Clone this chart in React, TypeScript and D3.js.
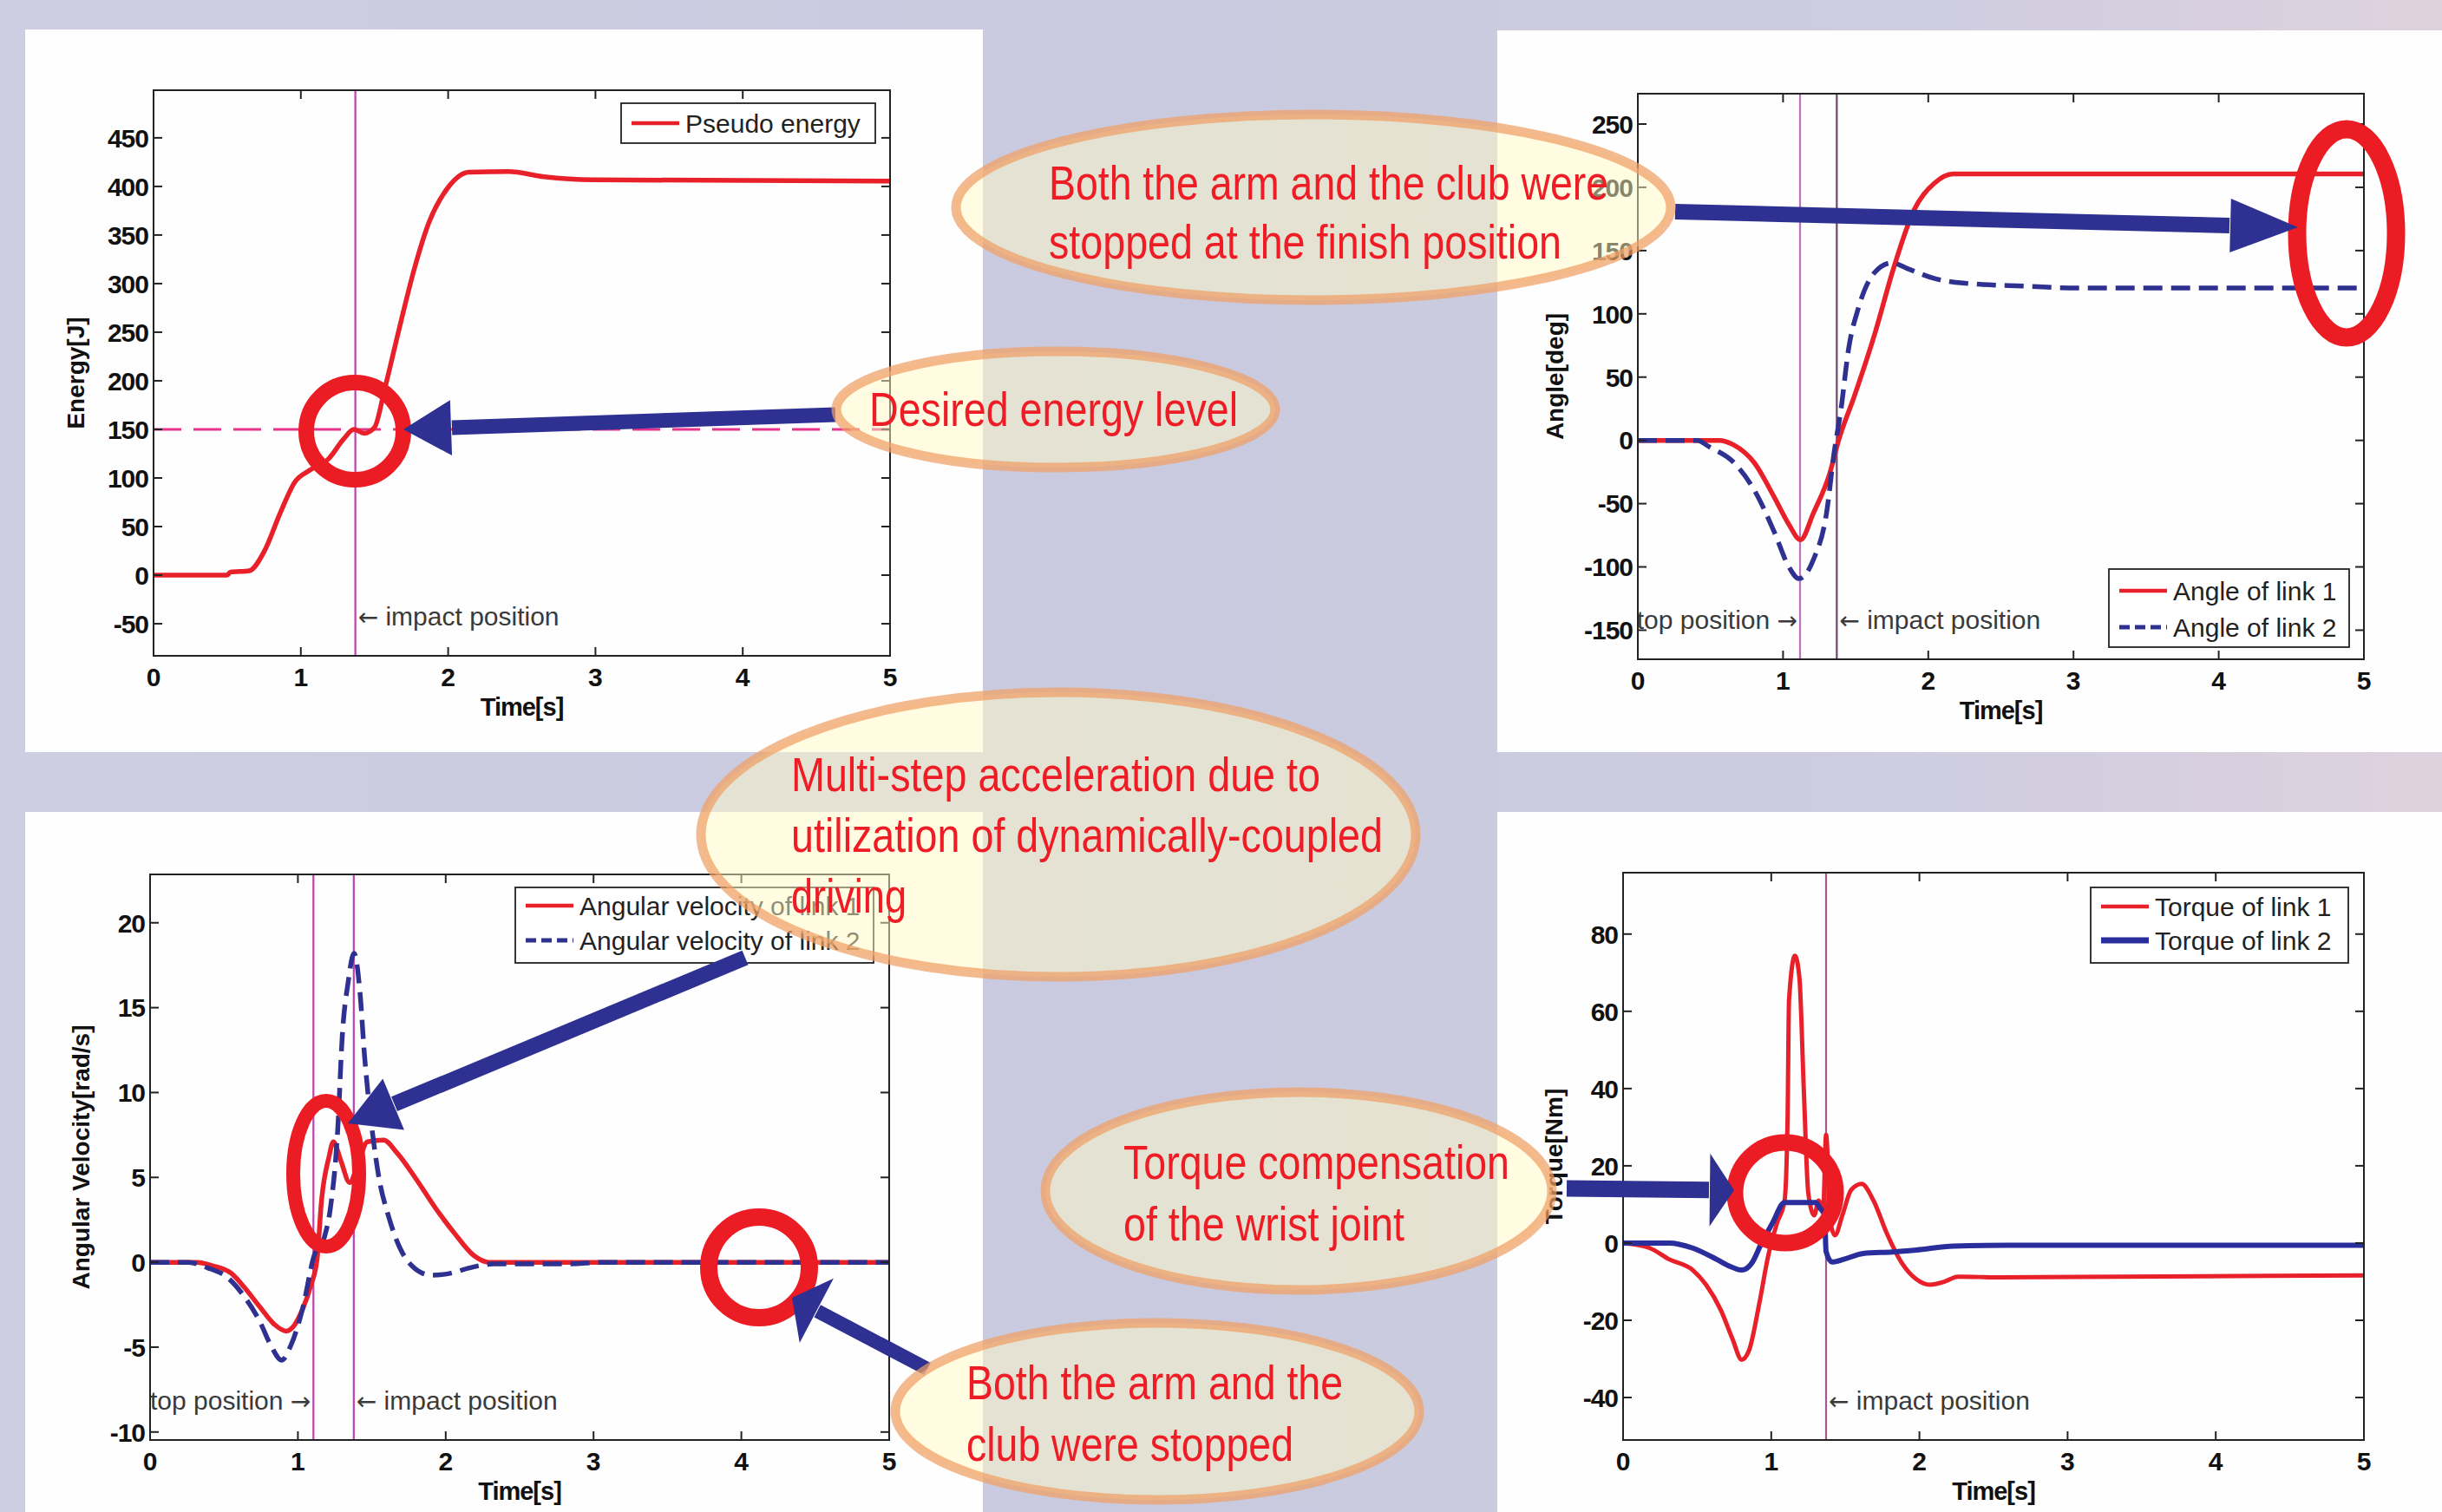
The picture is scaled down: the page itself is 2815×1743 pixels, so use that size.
import React from "react";
import * as d3 from "d3";

const W = 2815;
const H = 1743;

// ---- data (time in s) ----
const energyT = [0, 0.5, 0.52, 0.65, 0.75, 0.86, 0.96, 1.06, 1.19, 1.29, 1.36, 1.43, 1.5, 1.57, 1.67, 1.77, 1.87, 2.0, 2.14, 2.41, 2.65, 2.98, 5];
const energyV = [0, 0, 3, 4.5, 24, 64, 96, 108, 120, 140, 150, 146, 152, 192, 255, 315, 363, 399, 414.6, 415.4, 410, 406.8, 405.5];
const desiredEnergy = 150;

const angle1T = [0, 0.56, 0.66, 0.8, 0.94, 1.04, 1.12, 1.21, 1.32, 1.385, 1.49, 1.63, 1.76, 1.9, 2.04, 2.17, 5];
const angle1V = [0, 0, -3.6, -17.4, -45, -66.4, -78.6, -57.2, -26.6, 1, 34.7, 83.6, 135.6, 181.6, 203, 210.6, 210.6];
const angle2T = [0, 0.41, 0.49, 0.66, 0.8, 0.94, 1.04, 1.11, 1.21, 1.3, 1.35, 1.4, 1.45, 1.52, 1.63, 1.75, 1.86, 2.04, 2.24, 2.69, 3.03, 5];
const angle2V = [0, 0, -5, -17.4, -38.9, -72.5, -100, -109.3, -94, -57, -11, 25.4, 71.4, 105, 132.6, 140.3, 135.6, 128, 124.3, 121.8, 120.4, 120.4];

const vel1T = [0, 0.32, 0.42, 0.55, 0.64, 0.74, 0.84, 0.92, 0.97, 1.03, 1.09, 1.13, 1.16, 1.21, 1.24, 1.29, 1.35, 1.4, 1.47, 1.58, 1.67, 1.8, 1.93, 2.06, 2.19, 2.29, 5];
const vel1V = [0, 0, -0.2, -0.65, -1.5, -2.6, -3.65, -4.05, -3.77, -2.8, -1.3, 0.2, 3.65, 6.2, 7.1, 6.0, 4.7, 5.6, 7.1, 7.2, 6.45, 4.9, 3.2, 1.7, 0.4, 0, 0];
const vel2T = [0, 0.26, 0.39, 0.52, 0.64, 0.74, 0.82, 0.89, 0.95, 1.03, 1.11, 1.18, 1.22, 1.27, 1.3, 1.34, 1.38, 1.42, 1.45, 1.5, 1.55, 1.61, 1.69, 1.77, 1.9, 2.03, 2.16, 2.32, 2.83, 3.06, 5];
const vel2V = [0, 0, -0.33, -0.87, -2.05, -3.45, -4.95, -5.77, -4.95, -2.8, 0.4, 1.5, 3.2, 7.9, 13.3, 16.5, 18.2, 15.9, 12.25, 7.95, 4.9, 2.8, 0.85, -0.2, -0.76, -0.65, -0.33, -0.1, -0.1, 0, 0];

const torque1T = [0, 0.18, 0.31, 0.47, 0.56, 0.66, 0.74, 0.8, 0.85, 0.92, 0.98, 1.04, 1.09, 1.11, 1.12, 1.16, 1.19, 1.22, 1.25, 1.29, 1.32, 1.35, 1.37, 1.4, 1.43, 1.48, 1.54, 1.61, 1.69, 1.78, 1.88, 1.98, 2.07, 2.17, 2.26, 2.55, 3.36, 5];
const torque1V = [0, -1.3, -4.2, -7, -10.8, -17.4, -25, -30.2, -27.8, -15.5, -3.2, 5.3, 11, 31.8, 63, 74.4, 68.7, 39.4, 12.9, 7.2, 11, 8.2, 28, 5.3, 2, 7.2, 13.8, 15.3, 11, 2.5, -5.1, -9.4, -10.8, -10, -8.7, -8.9, -8.7, -8.4];
const torque2T = [0, 0.31, 0.47, 0.63, 0.72, 0.8, 0.87, 0.93, 1.01, 1.09, 1.14, 1.3, 1.33, 1.36, 1.37, 1.41, 1.49, 1.62, 1.82, 1.98, 2.23, 2.6, 5];
const torque2V = [0, 0, -1.3, -4.2, -6, -7, -5.1, -0.4, 5.3, 10.5, 10.5, 10.5, 9, 7.2, -2.2, -4.9, -4.2, -2.7, -2.3, -1.8, -0.8, -0.6, -0.6];

const xTicks = [0, 1, 2, 3, 4, 5];
const energyTicks = [-50, 0, 50, 100, 150, 200, 250, 300, 350, 400, 450];
const angleTicks = [-150, -100, -50, 0, 50, 100, 150, 200, 250];
const velTicks = [-10, -5, 0, 5, 10, 15, 20];
const torqueTicks = [-40, -20, 0, 20, 40, 60, 80];

const topPos = 1.11;
const impactPos = 1.37;

const RED = "#e8202a";
const NAVY = "#2f3190";
const BLUE = "#2a2d9c";
const ARROW = "#2e3192";
const CIRCLE = "#ec1c24";
const FONT = "'Liberation Sans', Arial, sans-serif";
const ARROWFONT = "'DejaVu Sans', sans-serif";
const NARROW = "'Liberation Sans Narrow', 'Arial Narrow', 'Liberation Sans', Arial, sans-serif";

type Series = { t: number[]; v: number[]; color: string; width: number; dash?: string };
type Rect = { x: number; y: number; w: number; h: number };

function Panel(props: {
  id: string;
  plot: Rect;
  yDomain: [number, number];
  yTicks: number[];
  yLabel: string;
  yLabelDx: number;
  series: Series[];
  hline?: { v: number; color: string };
  vlines: { t: number; color: string }[];
  notes: { t: number; text: string; anchor: "start" | "end" }[];
  legend: Rect & { rows: number[]; items: { label: string; color: string; width: number; dash?: string }[] };
}) {
  const { id, plot, yDomain, yTicks, yLabel, yLabelDx, series, hline, vlines, notes, legend } = props;
  const x = d3.scaleLinear().domain([0, 5]).range([plot.x, plot.x + plot.w]);
  const y = d3.scaleLinear().domain(yDomain).range([plot.y + plot.h, plot.y]);
  const bottom = plot.y + plot.h;
  const right = plot.x + plot.w;
  const tl = 10;

  return (
    <g>
      <defs>
        <clipPath id={id}>
          <rect x={plot.x} y={plot.y} width={plot.w} height={plot.h} />
        </clipPath>
      </defs>
      <g clipPath={`url(#${id})`}>
        {hline && (
          <line x1={plot.x} x2={right} y1={y(hline.v)} y2={y(hline.v)} stroke={hline.color} strokeWidth={3.2} strokeDasharray="32,14" />
        )}
        {vlines.map((vl, i) => (
          <line key={i} x1={x(vl.t)} x2={x(vl.t)} y1={plot.y} y2={bottom} stroke={vl.color} strokeWidth={2.2} />
        ))}
        {series.map((s, i) => {
          const path = d3
            .line<number>()
            .x((_, j) => x(s.t[j]))
            .y((d) => y(d))
            .curve(d3.curveMonotoneX)(s.v);
          return (
            <path key={i} d={path ?? ""} fill="none" stroke={s.color} strokeWidth={s.width} strokeDasharray={s.dash} strokeLinejoin="round" />
          );
        })}
      </g>
      {notes.map((n, i) => {
        const arrowFirst = n.text.startsWith("←");
        const body = n.text.replace("←", "").replace("→", "").trim();
        return (
          <text
            key={i}
            x={x(n.t) + (n.anchor === "start" ? 3 : -3)}
            y={bottom - 35}
            textAnchor={n.anchor}
            fontFamily={FONT}
            fontSize={30}
            fill="#3a3a3a"
          >
            {arrowFirst ? (
              <>
                <tspan fontFamily={ARROWFONT} fontSize={28}>←</tspan>
                <tspan> {body}</tspan>
              </>
            ) : (
              <>
                <tspan>{body} </tspan>
                <tspan fontFamily={ARROWFONT} fontSize={28}>→</tspan>
              </>
            )}
          </text>
        );
      })}
      {/* box + ticks */}
      <rect x={plot.x} y={plot.y} width={plot.w} height={plot.h} fill="none" stroke="#222" strokeWidth={2} />
      {xTicks.map((t) => (
        <g key={t}>
          <line x1={x(t)} x2={x(t)} y1={bottom} y2={bottom - tl} stroke="#222" strokeWidth={2} />
          <line x1={x(t)} x2={x(t)} y1={plot.y} y2={plot.y + tl} stroke="#222" strokeWidth={2} />
          <text x={x(t)} y={bottom + 35} textAnchor="middle" fontFamily={FONT} fontWeight="bold" fontSize={30} fill="#111">
            {t}
          </text>
        </g>
      ))}
      {yTicks.map((v) => (
        <g key={v}>
          <line x1={plot.x} x2={plot.x + tl} y1={y(v)} y2={y(v)} stroke="#222" strokeWidth={2} />
          <line x1={right} x2={right - tl} y1={y(v)} y2={y(v)} stroke="#222" strokeWidth={2} />
          <text x={plot.x - 6} y={y(v)} dy="0.36em" textAnchor="end" fontFamily={FONT} fontWeight="bold" fontSize={30} fill="#111" letterSpacing={-1}>
            {v}
          </text>
        </g>
      ))}
      <text x={plot.x + plot.w / 2} y={bottom + 69} textAnchor="middle" fontFamily={FONT} fontWeight="bold" fontSize={29} fill="#111" letterSpacing={-1}>
        Time[s]
      </text>
      <text
        transform={`translate(${plot.x + yLabelDx}, ${plot.y + plot.h / 2}) rotate(-90)`}
        textAnchor="middle"
        dy="0.36em"
        fontFamily={FONT}
        fontWeight="bold"
        fontSize={28}
        fill="#111"
      >
        {yLabel}
      </text>
      {/* legend */}
      <rect x={legend.x} y={legend.y} width={legend.w} height={legend.h} fill="#fff" stroke="#222" strokeWidth={1.8} />
      {legend.items.map((it, i) => (
        <g key={i}>
          <line x1={legend.x + 12} x2={legend.x + 67} y1={legend.rows[i]} y2={legend.rows[i]} stroke={it.color} strokeWidth={it.width} strokeDasharray={it.dash} />
          <text x={legend.x + 74} y={legend.rows[i]} dy="0.36em" fontFamily={FONT} fontSize={30} fill="#222">
            {it.label}
          </text>
        </g>
      ))}
    </g>
  );
}

function Arrow({ from, tip, head, half, width }: { from: [number, number]; tip: [number, number]; head: number; half: number; width: number }) {
  const dx = from[0] - tip[0];
  const dy = from[1] - tip[1];
  const len = Math.hypot(dx, dy);
  const ux = dx / len;
  const uy = dy / len;
  const bx = tip[0] + ux * head;
  const by = tip[1] + uy * head;
  const c1 = [bx - uy * half, by + ux * half];
  const c2 = [bx + uy * half, by - ux * half];
  return (
    <g>
      <line x1={from[0]} y1={from[1]} x2={bx + ux} y2={by + uy} stroke={ARROW} strokeWidth={width} />
      <polygon points={`${tip[0]},${tip[1]} ${c1[0]},${c1[1]} ${c2[0]},${c2[1]}`} fill={ARROW} />
    </g>
  );
}

function Bubble({ cx, cy, rx, ry, x, lines }: { cx: number; cy: number; rx: number; ry: number; x: number; lines: { text: string; y: number; w: number }[] }) {
  return (
    <g>
      <ellipse cx={cx} cy={cy} rx={rx} ry={ry} fill="rgba(255,249,198,0.5)" stroke="rgba(240,160,100,0.72)" strokeWidth={11} />
      {lines.map((l, i) => (
        <text key={i} x={x} y={l.y} fontFamily={NARROW} fontSize={56} fill="#ee1c25" textLength={l.w} lengthAdjust="spacingAndGlyphs">
          {l.text}
        </text>
      ))}
    </g>
  );
}

export default function App() {
  return (
    <svg width={W} height={H} style={{ position: "absolute", left: 0, top: 0, display: "block" }}>
      <defs>
        <linearGradient id="bg" x1="0" x2="1" y1="0" y2="0">
          <stop offset="0" stopColor="#cdcee2" />
          <stop offset="0.5" stopColor="#c9cadf" />
          <stop offset="0.8" stopColor="#cfcde0" />
          <stop offset="1" stopColor="#dfd2de" />
        </linearGradient>
      </defs>
      <rect width={W} height={H} fill="url(#bg)" />
      <rect x={29} y={34} width={1104} height={833} fill="#fefefe" />
      <rect x={1726} y={35} width={1089} height={832} fill="#fefefe" />
      <rect x={29} y={936} width={1104} height={807} fill="#fefefe" />
      <rect x={1726} y={936} width={1089} height={807} fill="#fefefe" />

      <Panel
        id="cEnergy"
        plot={{ x: 177, y: 104, w: 849, h: 652 }}
        yDomain={[-83, 499]}
        yTicks={energyTicks}
        yLabel="Energy[J]"
        yLabelDx={-90}
        series={[{ t: energyT, v: energyV, color: RED, width: 5.5 }]}
        hline={{ v: desiredEnergy, color: "#e6348c" }}
        vlines={[{ t: impactPos, color: "#c040b0" }]}
        notes={[{ t: impactPos, text: "← impact position", anchor: "start" }]}
        legend={{ x: 716, y: 119, w: 293, h: 46, rows: [142], items: [{ label: "Pseudo energy", color: RED, width: 4.5 }] }}
      />
      <Panel
        id="cAngle"
        plot={{ x: 1888, y: 108, w: 837, h: 652 }}
        yDomain={[-173, 274]}
        yTicks={angleTicks}
        yLabel="Angle[deg]"
        yLabelDx={-96}
        series={[
          { t: angle1T, v: angle1V, color: RED, width: 5.5 },
          { t: angle2T, v: angle2V, color: NAVY, width: 5.5, dash: "22,10" },
        ]}
        vlines={[
          { t: topPos + 0.007, color: "#c070c0" },
          { t: impactPos, color: "#6a4a6a" },
        ]}
        notes={[
          { t: topPos + 0.007, text: "top position →", anchor: "end" },
          { t: impactPos, text: "← impact position", anchor: "start" },
        ]}
        legend={{
          x: 2431, y: 656, w: 277, h: 90, rows: [681, 723],
          items: [
            { label: "Angle of link 1", color: RED, width: 4.5 },
            { label: "Angle of link 2", color: NAVY, width: 5, dash: "12,6" },
          ],
        }}
      />
      <Panel
        id="cVel"
        plot={{ x: 173, y: 1008, w: 852, h: 652 }}
        yDomain={[-10.47, 22.85]}
        yTicks={velTicks}
        yLabel="Angular Velocity[rad/s]"
        yLabelDx={-80}
        series={[
          { t: vel1T, v: vel1V, color: RED, width: 5.5 },
          { t: vel2T, v: vel2V, color: NAVY, width: 5.5, dash: "22,10" },
        ]}
        vlines={[
          { t: topPos - 0.005, color: "#c040b0" },
          { t: impactPos + 0.008, color: "#c040b0" },
        ]}
        notes={[
          { t: topPos - 0.005, text: "top position →", anchor: "end" },
          { t: impactPos + 0.008, text: "← impact position", anchor: "start" },
        ]}
        legend={{
          x: 594, y: 1023, w: 413, h: 87, rows: [1044, 1084],
          items: [
            { label: "Angular velocity of link 1", color: RED, width: 4.5 },
            { label: "Angular velocity of link 2", color: NAVY, width: 5, dash: "12,6" },
          ],
        }}
      />
      <Panel
        id="cTorque"
        plot={{ x: 1871, y: 1006, w: 854, h: 654 }}
        yDomain={[-51, 95.9]}
        yTicks={torqueTicks}
        yLabel="Torque[Nm]"
        yLabelDx={-80}
        series={[
          { t: torque1T, v: torque1V, color: RED, width: 5 },
          { t: torque2T, v: torque2V, color: BLUE, width: 6 },
        ]}
        vlines={[{ t: impactPos, color: "#a05a90" }]}
        notes={[{ t: impactPos, text: "← impact position", anchor: "start" }]}
        legend={{
          x: 2410, y: 1023, w: 297, h: 87, rows: [1045, 1084],
          items: [
            { label: "Torque of link 1", color: RED, width: 4.5 },
            { label: "Torque of link 2", color: BLUE, width: 7 },
          ],
        }}
      />

      {/* red highlight circles */}
      <g fill="none" stroke={CIRCLE}>
        <ellipse cx={409} cy={497} rx={56} ry={56} strokeWidth={18} />
        <ellipse cx={2705} cy={269} rx={57} ry={120} strokeWidth={21} />
        <ellipse cx={376} cy={1353} rx={38} ry={84} strokeWidth={16} />
        <ellipse cx={875} cy={1461} rx={58} ry={58} strokeWidth={20} />
        <ellipse cx={2058} cy={1375} rx={58} ry={58} strokeWidth={19} />
      </g>

      {/* arrows */}
      <Arrow from={[963, 478]} tip={[465, 495]} head={55} half={32} width={17} />
      <Arrow from={[1931, 244]} tip={[2649, 262]} head={78} half={31} width={18} />
      <Arrow from={[859, 1104]} tip={[401, 1295]} head={57} half={32} width={18} />
      <Arrow from={[1069, 1578]} tip={[913, 1496]} head={32} half={42} width={16} />
      <Arrow from={[1806, 1370]} tip={[1999, 1372]} head={28} half={42} width={19} />

      {/* callout bubbles */}
      <Bubble
        cx={1514} cy={239} rx={412} ry={107} x={1209}
        lines={[
          { text: "Both the arm and the club were", y: 230, w: 645 },
          { text: "stopped at the finish position", y: 298, w: 591 },
        ]}
      />
      <Bubble cx={1217} cy={472} rx={253} ry={67} x={1002} lines={[{ text: "Desired energy level", y: 491, w: 425 }]} />
      <Bubble
        cx={1220} cy={962} rx={412} ry={164} x={912}
        lines={[
          { text: "Multi-step acceleration due to", y: 912, w: 610 },
          { text: "utilization of dynamically-coupled", y: 982, w: 682 },
          { text: "driving", y: 1052, w: 133 },
        ]}
      />
      <Bubble
        cx={1497} cy={1373} rx={292} ry={114} x={1295}
        lines={[
          { text: "Torque compensation", y: 1359, w: 445 },
          { text: "of the wrist joint", y: 1430, w: 324 },
        ]}
      />
      <Bubble
        cx={1334} cy={1627} rx={302} ry={102} x={1114}
        lines={[
          { text: "Both the arm and the", y: 1613, w: 434 },
          { text: "club were stopped", y: 1684, w: 377 },
        ]}
      />
    </svg>
  );
}
